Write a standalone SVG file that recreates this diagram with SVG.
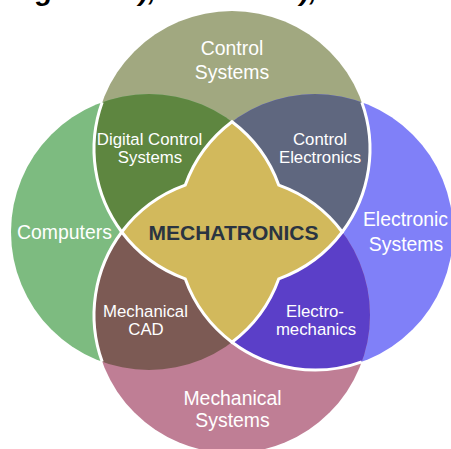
<svg xmlns="http://www.w3.org/2000/svg" width="451" height="449" viewBox="0 0 451 449">
<style>
.lbl{font-family:"Liberation Sans",Arial,sans-serif;fill:#ffffff;text-anchor:middle}
.in{font-size:16.8px}
.out{font-size:19.4px}
.core{font-family:"Liberation Sans",Arial,sans-serif;font-weight:bold;font-size:21px;fill:#2a3441;text-anchor:middle}
.top{font-family:"Liberation Sans",Arial,sans-serif;font-weight:bold;font-style:italic;font-size:28px;fill:#000000}
.edge{fill:none;stroke:#ffffff;stroke-width:3}
</style>
<defs>
<clipPath id="cN"><circle cx="232" cy="149" r="138"/></clipPath>
<clipPath id="cS"><circle cx="232" cy="315" r="138"/></clipPath>
</defs>
<rect width="451" height="449" fill="#ffffff"/>
<g id="heading-fragment">
<text class="top" x="36" y="0">g</text>
<text class="top" x="139" y="0">),</text>
<text class="top" x="300" y="0">),</text>
</g>
<g id="control-systems">
<circle cx="232" cy="149" r="138" fill="#a1a880"/>
</g>
<g id="computers">
<circle cx="149" cy="232" r="138" fill="#7dbb80"/>
</g>
<g id="electronic-systems">
<circle cx="315" cy="232" r="138" fill="#8080f8"/>
</g>
<g id="mechanical-systems">
<circle cx="232" cy="315" r="138" fill="#bf7e95"/>
</g>
<g id="digital-control-systems">
<circle cx="149" cy="232" r="138" fill="#5e8640" clip-path="url(#cN)"/>
</g>
<g id="control-electronics">
<circle cx="315" cy="232" r="138" fill="#5f677f" clip-path="url(#cN)"/>
</g>
<g id="mechanical-cad">
<circle cx="149" cy="232" r="138" fill="#7c5a54" clip-path="url(#cS)"/>
</g>
<g id="electro-mechanics">
<circle cx="315" cy="232" r="138" fill="#5b3fc8" clip-path="url(#cS)"/>
</g>
<g id="mechatronics">
<path d="M121.75 232 A138 138 0 0 1 185.2 185.2 A138 138 0 0 1 232 121.75 A138 138 0 0 1 278.8 185.2 A138 138 0 0 1 342.25 232 A138 138 0 0 1 278.8 278.8 A138 138 0 0 1 232 342.25 A138 138 0 0 1 185.2 278.8 A138 138 0 0 1 121.75 232 Z" fill="#d2b95c" stroke="#ffffff" stroke-width="3"/>
</g>
<g id="connectors">
<path class="edge" d="M102.2 102.2 A138 138 0 0 0 121.75 232"/>
<path class="edge" d="M361.8 102.2 A138 138 0 0 1 342.25 232"/>
<path class="edge" d="M121.75 232 A138 138 0 0 0 102.2 361.8"/>
<path class="edge" d="M232 342.25 A138 138 0 0 0 361.8 361.8"/>
</g>
<g id="labels">
<text class="lbl out" x="232" y="54.5">Control</text>
<text class="lbl out" x="232" y="78.5">Systems</text>
<text class="lbl out" x="64.5" y="239">Computers</text>
<text class="lbl out" x="405.5" y="226">Electronic</text>
<text class="lbl out" x="406" y="250.5">Systems</text>
<text class="lbl out" x="232.5" y="404.5">Mechanical</text>
<text class="lbl out" x="232.5" y="427">Systems</text>
<text class="lbl in" x="149.5" y="145">Digital Control</text>
<text class="lbl in" x="150" y="163">Systems</text>
<text class="lbl in" x="320" y="145">Control</text>
<text class="lbl in" x="320" y="163">Electronics</text>
<text class="lbl in" x="145.5" y="316.5">Mechanical</text>
<text class="lbl in" x="146" y="335">CAD</text>
<text class="lbl in" x="315" y="316.5">Electro-</text>
<text class="lbl in" x="316" y="335">mechanics</text>
<text class="core" x="233.5" y="240">MECHATRONICS</text>
</g>
</svg>
